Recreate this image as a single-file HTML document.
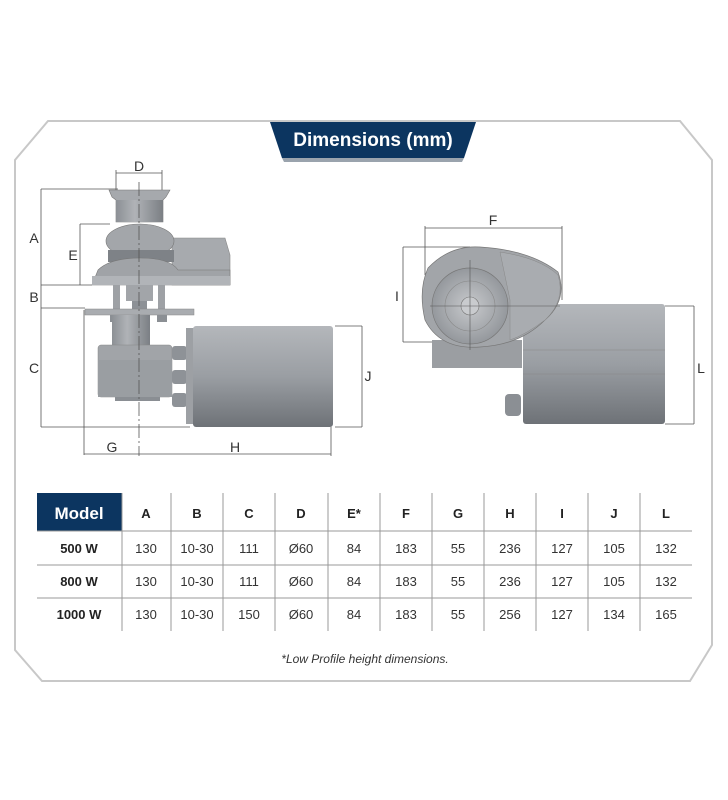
<!DOCTYPE html>
<html><head><meta charset="utf-8"><style>
html,body{margin:0;padding:0;background:#fff;}
body{width:728px;height:800px;position:relative;overflow:hidden;font-family:"Liberation Sans",sans-serif;}
svg{position:absolute;left:0;top:0;}
</style></head><body>
<svg width="728" height="800" viewBox="0 0 728 800" xmlns="http://www.w3.org/2000/svg" font-family="Liberation Sans, sans-serif">
<defs>
<linearGradient id="mot" x1="0" y1="0" x2="0" y2="1"><stop offset="0" stop-color="#b4b7bb"/><stop offset="0.5" stop-color="#9a9ea3"/><stop offset="1" stop-color="#6e7277"/></linearGradient>
<linearGradient id="mt2" x1="0" y1="0" x2="1" y2="0"><stop offset="0" stop-color="#8c9095"/><stop offset="0.4" stop-color="#b0b3b7"/><stop offset="1" stop-color="#7b7f84"/></linearGradient>
<radialGradient id="hub" cx="0.5" cy="0.5" r="0.6"><stop offset="0" stop-color="#c8cacd"/><stop offset="1" stop-color="#8a8e93"/></radialGradient>
</defs>
<!-- outline -->
<polygon points="48,121 680,121 712,160 712,645 690,681 42,681 15,650 15,160" fill="#fff" stroke="#c8c8c8" stroke-width="2"/>
<!-- banner -->
<polygon points="270,122 476,122 464,158 282,158" fill="#0c3560"/>
<polygon points="282,158 464,158 462,162 284,162" fill="#9aa3ad"/>
<text x="373" y="146" fill="#fff" font-size="19" font-weight="bold" text-anchor="middle">Dimensions (mm)</text>

<!-- LEFT DRAWING -->
<g stroke="#555" stroke-width="0.8" fill="none">
<line x1="116" y1="173" x2="162" y2="173"/><line x1="116" y1="170" x2="116" y2="190"/><line x1="162" y1="170" x2="162" y2="190"/>
<line x1="41" y1="189" x2="118" y2="189"/>
<line x1="41" y1="189" x2="41" y2="427"/>
<line x1="80" y1="224" x2="110" y2="224"/><line x1="80" y1="224" x2="80" y2="285"/>
<line x1="41" y1="285" x2="92" y2="285"/>
<line x1="41" y1="308" x2="85" y2="308"/>
<line x1="41" y1="427" x2="190" y2="427"/>
<line x1="84" y1="310" x2="84" y2="455"/>
<line x1="84" y1="454" x2="331" y2="454"/><line x1="331" y1="427" x2="331" y2="456"/>
<line x1="335" y1="326" x2="362" y2="326"/><line x1="362" y1="326" x2="362" y2="427"/><line x1="335" y1="427" x2="362" y2="427"/>
</g>
<!-- capstan -->
<path d="M109,190 L170,190 L166,197 L163,200 L163,222 L116,222 L116,200 L112,197 Z" fill="#a6a9ad" stroke="#777" stroke-width="0.6"/>
<rect x="116" y="200" width="47" height="22" fill="url(#mt2)"/>
<!-- housing -->
<path d="M172,238 L225,238 L230,255 L230,285 L172,285 Z" fill="#a7aaae" stroke="#888" stroke-width="0.6"/>
<ellipse cx="140" cy="241" rx="34" ry="17" fill="#a3a6aa" stroke="#777" stroke-width="0.6"/>
<rect x="108" y="250" width="66" height="12" fill="#7e8287"/>
<path d="M98,270 Q110,258 140,258 Q170,258 178,270 L230,270 L230,285 L92,285 Z" fill="#a0a3a7" stroke="#777" stroke-width="0.6"/>
<rect x="92" y="276" width="138" height="9" fill="#b1b4b8"/>
<!-- posts & shaft -->
<rect x="113" y="285" width="7" height="24" fill="#9ea1a5"/>
<rect x="158" y="285" width="7" height="24" fill="#9ea1a5"/>
<rect x="126" y="285" width="27" height="16" fill="#a2a5a9"/>
<rect x="132" y="301" width="15" height="8" fill="#8d9196"/>
<rect x="85" y="309" width="109" height="6" fill="#a9acb0" stroke="#888" stroke-width="0.5"/>
<rect x="110" y="315" width="10" height="7" fill="#8b8f94"/><rect x="157" y="315" width="10" height="7" fill="#8b8f94"/>
<rect x="112" y="315" width="38" height="32" fill="url(#mt2)"/>
<rect x="98" y="345" width="74" height="52" rx="3" fill="#a1a4a8" stroke="#888" stroke-width="0.5"/>
<rect x="98" y="360" width="74" height="37" fill="#9a9ea2"/>
<rect x="115" y="397" width="45" height="4" fill="#8a8e93"/>
<rect x="172" y="346" width="15" height="14" rx="3" fill="#8e9297"/><rect x="172" y="370" width="15" height="14" rx="3" fill="#8e9297"/><rect x="172" y="393" width="15" height="14" rx="3" fill="#8e9297"/>
<rect x="186" y="328" width="8" height="96" fill="#9da0a4"/>
<rect x="193" y="326" width="140" height="101" rx="3" fill="url(#mot)"/>
<line x1="139" y1="182" x2="139" y2="456" stroke="#555" stroke-width="0.8" stroke-dasharray="14,3,2,3"/>
<g font-size="14" fill="#333" text-anchor="middle">
<text x="139" y="171">D</text><text x="34" y="243">A</text><text x="73" y="260">E</text><text x="34" y="302">B</text><text x="34" y="373">C</text><text x="368" y="381">J</text><text x="112" y="452">G</text><text x="235" y="452">H</text>
</g>

<!-- RIGHT DRAWING -->
<g stroke="#555" stroke-width="0.8" fill="none">
<line x1="425" y1="228" x2="562" y2="228"/><line x1="425" y1="226" x2="425" y2="275"/><line x1="562" y1="226" x2="562" y2="300"/>
<line x1="403" y1="247" x2="470" y2="247"/><line x1="403" y1="247" x2="403" y2="342"/><line x1="403" y1="342" x2="440" y2="342"/>
<line x1="665" y1="306" x2="694" y2="306"/><line x1="694" y1="306" x2="694" y2="424"/><line x1="665" y1="424" x2="694" y2="424"/>
</g>
<rect x="432" y="340" width="90" height="28" fill="#9b9ea2"/>
<rect x="523" y="304" width="142" height="120" rx="3" fill="url(#mot)"/>
<line x1="523" y1="350" x2="665" y2="350" stroke="#888" stroke-width="0.6"/>
<line x1="523" y1="374" x2="665" y2="374" stroke="#888" stroke-width="0.6"/>
<rect x="505" y="394" width="16" height="22" rx="4" fill="#8b8f94"/>
<path d="M428,268 Q450,245 480,247 Q530,250 558,272 Q568,300 545,320 Q520,345 480,347 Q440,350 425,320 Q418,290 428,268 Z" fill="#a2a5a9" stroke="#777" stroke-width="0.7"/>
<path d="M500,252 Q540,258 558,275 Q566,300 545,320 Q525,335 510,340 L510,300 Z" fill="#a9acb0" stroke="#888" stroke-width="0.5"/>
<circle cx="470" cy="306" r="38" fill="url(#hub)" stroke="#777" stroke-width="0.7"/>
<circle cx="470" cy="306" r="25" fill="none" stroke="#888" stroke-width="0.6"/>
<circle cx="470" cy="306" r="9" fill="#c9cbce" stroke="#777" stroke-width="0.6"/>
<line x1="430" y1="306" x2="560" y2="306" stroke="#555" stroke-width="0.6"/>
<line x1="470" y1="260" x2="470" y2="350" stroke="#555" stroke-width="0.6"/>
<g font-size="14" fill="#333" text-anchor="middle">
<text x="493" y="225">F</text><text x="397" y="301">I</text><text x="701" y="373">L</text>
</g>

<!-- TABLE -->
<rect x="37" y="493" width="85" height="38" fill="#0c3560"/>
<text x="79" y="519" fill="#fff" font-size="17" font-weight="bold" text-anchor="middle">Model</text>
<g stroke="#999" stroke-width="1">
<line x1="37" y1="531" x2="692" y2="531"/><line x1="37" y1="565" x2="692" y2="565"/><line x1="37" y1="598" x2="692" y2="598"/>
<line x1="122" y1="493" x2="122" y2="631"/><line x1="171" y1="493" x2="171" y2="631"/><line x1="223" y1="493" x2="223" y2="631"/><line x1="275" y1="493" x2="275" y2="631"/><line x1="328" y1="493" x2="328" y2="631"/><line x1="380" y1="493" x2="380" y2="631"/><line x1="432" y1="493" x2="432" y2="631"/><line x1="484" y1="493" x2="484" y2="631"/><line x1="536" y1="493" x2="536" y2="631"/><line x1="588" y1="493" x2="588" y2="631"/><line x1="640" y1="493" x2="640" y2="631"/>
</g>
<g font-size="13" fill="#222" text-anchor="middle" font-weight="bold">
<text x="146" y="518">A</text><text x="197" y="518">B</text><text x="249" y="518">C</text><text x="301" y="518">D</text><text x="354" y="518">E*</text><text x="406" y="518">F</text><text x="458" y="518">G</text><text x="510" y="518">H</text><text x="562" y="518">I</text><text x="614" y="518">J</text><text x="666" y="518">L</text>
<text x="79" y="553">500 W</text><text x="79" y="586">800 W</text><text x="79" y="619">1000 W</text>
</g>
<g font-size="13" fill="#333" text-anchor="middle">
<text x="146" y="553">130</text><text x="197" y="553">10-30</text><text x="249" y="553">111</text><text x="301" y="553">Ø60</text><text x="354" y="553">84</text><text x="406" y="553">183</text><text x="458" y="553">55</text><text x="510" y="553">236</text><text x="562" y="553">127</text><text x="614" y="553">105</text><text x="666" y="553">132</text>
<text x="146" y="586">130</text><text x="197" y="586">10-30</text><text x="249" y="586">111</text><text x="301" y="586">Ø60</text><text x="354" y="586">84</text><text x="406" y="586">183</text><text x="458" y="586">55</text><text x="510" y="586">236</text><text x="562" y="586">127</text><text x="614" y="586">105</text><text x="666" y="586">132</text>
<text x="146" y="619">130</text><text x="197" y="619">10-30</text><text x="249" y="619">150</text><text x="301" y="619">Ø60</text><text x="354" y="619">84</text><text x="406" y="619">183</text><text x="458" y="619">55</text><text x="510" y="619">256</text><text x="562" y="619">127</text><text x="614" y="619">134</text><text x="666" y="619">165</text>
</g>
<text x="365" y="663" font-size="12" font-style="italic" fill="#333" text-anchor="middle">*Low Profile height dimensions.</text>
</svg>
</body></html>
